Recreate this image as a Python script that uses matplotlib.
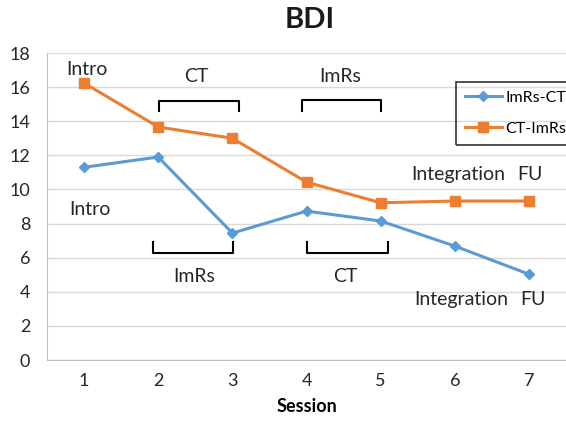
import matplotlib
matplotlib.use("Agg")
import matplotlib.pyplot as plt

sessions = [1, 2, 3, 4, 5, 6, 7]
imrs_ct = [11.3, 11.9, 7.44, 8.73, 8.15, 6.68, 5.03]
ct_imrs = [16.24, 13.66, 13.0, 10.43, 9.22, 9.32, 9.32]
series_names = ["ImRs-CT", "CT-ImRs"]
y_ticks = [0, 2, 4, 6, 8, 10, 12, 14, 16, 18]

plt.rcParams['font.family'] = ['Lato', 'DejaVu Sans']

fig = plt.figure(figsize=(5.66, 4.23), dpi=100)
ax = fig.add_axes([47/566, 63/423, 519/566, 307/423])

blue = "#5B9BD5"
orange = "#ED7D31"

ax.plot(sessions, imrs_ct, color=blue, lw=2.2, marker="D", ms=5.5, label=series_names[0], clip_on=False, zorder=3)
ax.plot(sessions, ct_imrs, color=orange, lw=2.2, marker="s", ms=7, label=series_names[1], clip_on=False, zorder=3)

ax.set_xlim(0.5, 7.5)
ax.set_ylim(0, 18)
ax.set_yticks(y_ticks)
ax.set_xticks(sessions)
ax.tick_params(length=0, labelsize=13, colors="#262626", pad=9)
ax.tick_params(axis='y', pad=12)
ax.grid(axis='y', color="#D9D9D9", lw=1)
ax.set_axisbelow(True)
for s in ["top", "right"]:
    ax.spines[s].set_visible(False)
ax.spines["left"].set_color("#BFBFBF")
ax.spines["bottom"].set_color("#BFBFBF")

ax.set_xlabel("Session", fontsize=13, fontweight="bold", labelpad=7)
ax.text(310/566, 1 - 20.5/423, "BDI", transform=fig.transFigure, fontsize=21,
        fontweight="bold", ha="center", va="center", color="#1a1a1a")

txt = dict(fontsize=14, color="#262626", ha="center", va="center")
ax.text(1.04, 17.06, "Intro", **txt)
ax.text(2.52, 16.65, "CT", **txt)
ax.text(4.46, 16.65, "ImRs", **txt)
ax.text(6.05, 10.9, "Integration", **txt)
ax.text(7.02, 10.9, "FU", **txt)
ax.text(1.08, 8.85, "Intro", **txt)
ax.text(2.48, 4.87, "ImRs", **txt)
ax.text(4.53, 4.87, "CT", **txt)
ax.text(6.09, 3.52, "Integration", **txt)
ax.text(7.05, 3.52, "FU", **txt)

def bracket(x0, x1, ya, yb):
    ax.plot([x0, x0, x1, x1], [yb, ya, ya, yb], color="black", lw=1.5, zorder=2)

bracket(2.01, 3.09, 15.18, 14.6)
bracket(3.94, 5.0, 15.22, 14.6)
bracket(1.93, 3.01, 6.27, 6.9)
bracket(4.01, 5.10, 6.27, 6.9)

leg = ax.legend(loc="upper left", bbox_to_anchor=(456/566, 1 - 82/423), bbox_transform=fig.transFigure,
                frameon=True, fancybox=False, fontsize=11.5, handlelength=2.3, borderpad=0.55,
                labelspacing=1.05, handletextpad=0.25, borderaxespad=0)
leg.get_frame().set_edgecolor("black")
leg.get_frame().set_facecolor("none")
leg.get_frame().set_linewidth(1.2)

fig.savefig("out.png", dpi=100)
